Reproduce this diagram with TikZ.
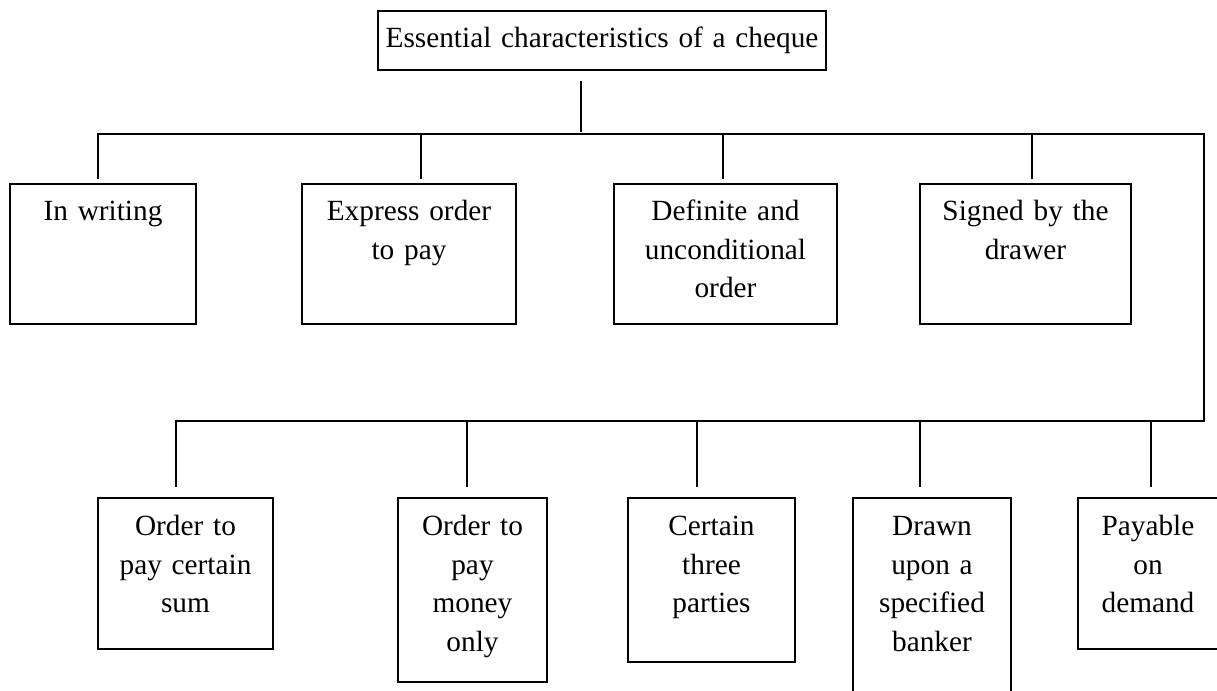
\documentclass[tikz,border=0pt]{standalone}
\usepackage{fontspec}
\setmainfont{Liberation Serif}
\usetikzlibrary{positioning, calc}

\begin{document}
\begin{tikzpicture}[
        x=0.5pt, y=-0.5pt,
        every node/.style = {font=\fontsize{14.65}{19.25}\selectfont},
        box/.style = {draw, line width=0.9pt, rectangle, inner sep=0pt, align=center, anchor=north},
        headbox/.style = {box, text height=18.5pt, text depth=11pt},
        rowone/.style = {box, text height=18.5pt, text depth=51.5pt},
        rowtwo/.style = {box, text height=19pt},
        wire/.style = {line width=0.9pt}
    ]
        \useasboundingbox (0,0) rectangle (1217,691);

        % Nodes
        \node [headbox, text width=224pt] (cheque) at (602,10) {Essential characteristics of a cheque};

        \node [rowone, text width=93pt] (writing) at (103,183) {In writing};
        \node [rowone, text width=107pt] (express) at (409,183) {Express order\\to pay};
        \node [rowone, text width=111.5pt] (definite) at (725.5,183) {Definite and\\unconditional\\order};
        \node [rowone, text width=105.5pt] (signed) at (1025.5,183) {Signed by the\\drawer};

        \node [rowtwo, text width=87.5pt, text depth=56.5pt] (sum) at (185.5,497) {Order to\\pay certain\\sum};
        \node [rowtwo, text width=74.5pt, text depth=73pt] (money) at (472.5,497) {Order to\\pay\\money\\only};
        \node [rowtwo, text width=83.5pt, text depth=63pt] (three) at (711.5,497) {Certain\\three\\parties};
        \node [rowtwo, text width=79pt, text depth=91pt] (banker) at (932,497) {Drawn\\upon a\\specified\\banker};
        \node [rowtwo, text width=70pt, text depth=56.5pt] (demand) at (1148,497) {Payable\\on\\demand};

        % Bus lines
        \coordinate (bus1) at (0,134);
        \coordinate (bus2) at (0,421);
        \coordinate (turn1) at (1204,134);
        \coordinate (turn2) at (1204,421);

        % Connections
        \draw [wire] ($(cheque.south)+(-21,10)$) -- ++(0,51);
        \draw [wire] ($(writing.north)+(-5,-4)$) |- (turn1) -- (turn2) -| ($(sum.north)+(-9.5,-10)$);
        \foreach \n/\dx in {express/12, definite/-2.5, signed/6.5}
            \draw [wire] ($(\n.north)+(\dx,-4)$) coordinate (t) -- (t |- bus1);
        \foreach \n/\dx in {money/-5.5, three/-14.5, banker/-12, demand/3}
            \draw [wire] ($(\n.north)+(\dx,-10)$) coordinate (t) -- (t |- bus2);
    \end{tikzpicture}
\end{document}
